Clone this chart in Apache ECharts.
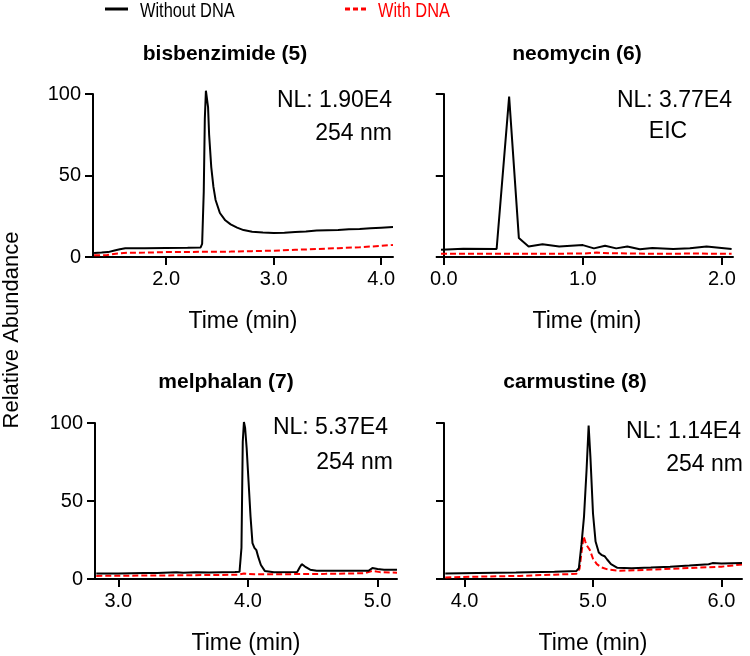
<!DOCTYPE html>
<html>
<head>
<meta charset="utf-8">
<script src="https://cdn.jsdelivr.net/npm/echarts@6/dist/echarts.min.js"></script>
<style>html,body{margin:0;padding:0;background:#fff;}#c{width:750px;height:656px;}</style>
</head>
<body>
<div id="c"></div>
<script>
// ---- data ----
const legendNames = ['Without DNA', 'With DNA'];
const panelTitles = ['bisbenzimide (5)', 'neomycin (6)', 'melphalan (7)', 'carmustine (8)'];
const panelNotes1 = ['NL: 1.90E4', 'NL: 3.77E4', 'NL: 5.37E4', 'NL: 1.14E4'];
const panelNotes2 = ['254 nm', 'EIC', '254 nm', '254 nm'];
const xMins = [1.32, -0.02, 2.82, 3.84];
const xMaxs = [4.11, 2.08, 5.15, 6.16];
const xTicks = [[2, 3, 4], [0, 1, 2], [3, 4, 5], [4, 5, 6]];
const yTicks = [0, 50, 100];

// bisbenzimide (5)
const bisTimeA = [1.33,1.40,1.46,1.52,1.57,1.62,1.80,2.00,2.20,2.32,2.335,2.35,2.36,2.37,2.38,2.39,2.40,2.42,2.44,2.46,2.50,2.55,2.60,2.66,2.72,2.80,2.90,3.00,3.10,3.20,3.30,3.40,3.50,3.60,3.70,3.80,3.90,4.00,4.11];
const bisWithout = [2.5,2.7,3.0,4.0,4.8,5.3,5.4,5.5,5.6,5.8,8,40,85,102,103,92,75,55,43,35,27,22.5,20,18,16.5,15.5,15,14.8,14.9,15.3,15.6,16.2,16.4,16.6,17,17.2,17.6,18,18.4];
const bisTimeB = [1.33,1.45,1.55,1.65,1.80,2.00,2.20,2.40,2.60,2.80,3.00,3.20,3.40,3.60,3.80,4.00,4.11];
const bisWith = [1.0,1.2,2.2,2.6,2.7,3.0,3.1,3.2,3.3,3.6,3.9,4.4,4.9,5.4,6.0,6.8,7.4];

// neomycin (6)
const neoTimeA = [-0.02,0.14,0.38,0.47,0.54,0.61,0.71,0.83,1.00,1.08,1.16,1.24,1.32,1.41,1.50,1.65,1.77,1.89,1.98,2.07];
const neoWithout = [4.5,5.1,4.9,98.4,11.6,6.5,7.8,6.5,7.3,5.3,6.9,5.3,6.5,4.7,5.5,4.9,5.3,6.5,5.7,4.9];
const neoTimeB = [-0.02,0.30,0.60,1.00,1.10,1.20,1.50,1.80,2.07];
const neoWith = [2.0,2.0,2.0,2.1,2.7,2.3,2.0,2.1,2.0];

// melphalan (7)
const melTimeA = [2.83,3.0,3.2,3.3,3.45,3.5,3.6,3.7,3.9,3.935,3.95,3.96,3.969,3.978,3.99,4.005,4.02,4.035,4.05,4.065,4.08,4.10,4.13,4.2,4.38,4.40,4.415,4.44,4.48,4.53,4.7,4.93,4.96,5.0,5.05,5.15];
const melWithout = [3.5,3.6,3.9,3.8,4.3,4.0,4.4,4.2,4.5,4.6,20,88,100.6,97,84,62,40,23,20,18.5,14,9,5.2,4.3,4.5,7.5,9.5,8,6,5.3,5.3,5.3,7.0,6.4,6.0,5.9];
const melTimeB = [2.83,3.2,3.5,3.8,3.93,3.97,4.05,4.3,4.6,4.9,4.96,5.02,5.15];
const melWith = [2.0,2.2,2.4,2.6,2.8,3.5,3.0,3.1,3.3,3.7,5.2,4.4,4.0];

// carmustine (8)
const carTimeA = [3.85,4.1,4.4,4.7,4.87,4.89,4.91,4.93,4.95,4.966,4.98,5.0,5.02,5.045,5.065,5.09,5.11,5.14,5.19,5.3,5.45,5.6,5.75,5.9,5.93,6.0,6.16];
const carWithout = [3.5,3.8,4.1,4.6,5.1,7,22,40,70,98.4,78,42,24,17,15.5,14.6,12.5,9.5,7.2,6.9,7.3,7.9,8.6,9.5,10.2,10.0,10.3];
const carTimeB = [3.85,4.1,4.43,4.7,4.87,4.895,4.912,4.927,4.94,4.95,4.975,5.0,5.03,5.065,5.12,5.21,5.4,5.6,5.8,6.0,6.16];
const carWith = [1.0,1.5,2.0,2.8,3.3,6.5,18,27.4,24,21.7,18.7,13,9.5,7.5,6.0,5.3,5.8,6.5,7.2,7.9,9.3];

const timesA = [bisTimeA, neoTimeA, melTimeA, carTimeA];
const valsA = [bisWithout, neoWithout, melWithout, carWithout];
const timesB = [bisTimeB, neoTimeB, melTimeB, carTimeB];
const valsB = [bisWith, neoWith, melWith, carWith];

// ---- layout ----
const FONT = "'Liberation Sans', Arial, sans-serif";
const grids = [
  {left: 93, top: 94, width: 300, height: 163},
  {left: 441, top: 94, width: 292, height: 163},
  {left: 95, top: 423, width: 302, height: 164},
  {left: 444, top: 423, width: 298, height: 164}
];
const titleCx = [225, 577, 226, 575];
const titleCy = [54, 54, 382, 382];
const note1 = [{x: 392, y: 101, a: 'right'}, {x: 732, y: 101, a: 'right'}, {x: 388, y: 428, a: 'right'}, {x: 741, y: 432, a: 'right'}];
const note2 = [{x: 392, y: 134, a: 'right'}, {x: 668, y: 132, a: 'center'}, {x: 393, y: 463, a: 'right'}, {x: 743, y: 465, a: 'right'}];

const xAxes = [], yAxes = [], series = [], graphics = [];
for (let i = 0; i < 4; i++) {
  xAxes.push({
    gridIndex: i, type: 'value', min: xMins[i], max: xMaxs[i],
    name: 'Time (min)', nameLocation: 'middle', nameGap: 53,
    nameTextStyle: {fontFamily: FONT, fontSize: 23, color: '#000'},
    axisLine: {onZero: false, lineStyle: {color: '#000', width: 2}},
    axisTick: {show: true, length: 8, customValues: xTicks[i], lineStyle: {color: '#000', width: 2}},
    axisLabel: {customValues: xTicks[i], margin: 12, fontFamily: FONT, fontSize: 20, color: '#000',
      formatter: v => Number(v).toFixed(1)},
    splitLine: {show: false}
  });
  yAxes.push({
    gridIndex: i, type: 'value', min: 0, max: 100, interval: 50,
    axisLine: {show: true, lineStyle: {color: '#000', width: 2}},
    axisTick: {show: true, length: 8, lineStyle: {color: '#000', width: 2}},
    axisLabel: {show: i % 2 === 0, margin: 12, fontFamily: FONT, fontSize: 20, color: '#000',
      customValues: yTicks},
    splitLine: {show: false}
  });
  series.push({
    name: legendNames[0], type: 'line', xAxisIndex: i, yAxisIndex: i,
    data: timesA[i].map((t, k) => [t, valsA[i][k]]),
    symbol: 'none', clip: false,
    lineStyle: {color: '#000', width: 2}, itemStyle: {color: '#000'}, z: 3
  });
  series.push({
    name: legendNames[1], type: 'line', xAxisIndex: i, yAxisIndex: i,
    data: timesB[i].map((t, k) => [t, valsB[i][k]]),
    symbol: 'none', clip: false,
    lineStyle: {color: '#ff0000', width: 2, type: [6, 3]}, itemStyle: {color: '#ff0000'}, z: 2
  });
  graphics.push({type: 'text', x: titleCx[i], y: titleCy[i],
    style: {text: panelTitles[i], font: "bold 21px 'Liberation Sans', Arial, sans-serif", fill: '#000', textAlign: 'center', textVerticalAlign: 'middle'}});
  graphics.push({type: 'text', x: note1[i].x, y: note1[i].y,
    style: {text: panelNotes1[i], font: "23px 'Liberation Sans', Arial, sans-serif", fill: '#000', textAlign: note1[i].a, textVerticalAlign: 'middle'}});
  graphics.push({type: 'text', x: note2[i].x, y: note2[i].y,
    style: {text: panelNotes2[i], font: "23px 'Liberation Sans', Arial, sans-serif", fill: '#000', textAlign: note2[i].a, textVerticalAlign: 'middle'}});
}
graphics.push({type: 'text', x: 12, y: 330, rotation: Math.PI / 2,
  style: {text: 'Relative Abundance', font: "22px 'Liberation Sans', Arial, sans-serif", fill: '#000', textAlign: 'center', textVerticalAlign: 'middle'}});

// legend (drawn as key lines + real text)
graphics.push({type: 'line', shape: {x1: 105, y1: 9, x2: 128, y2: 9}, style: {stroke: '#000', lineWidth: 3}});
graphics.push({type: 'text', x: 140, y: 11, scaleX: 0.78,
  style: {text: legendNames[0], font: "21px 'Liberation Sans', Arial, sans-serif", fill: '#000', textAlign: 'left', textVerticalAlign: 'middle'}});
graphics.push({type: 'line', shape: {x1: 345, y1: 9, x2: 368, y2: 9}, style: {stroke: '#ff0000', lineWidth: 3, lineDash: [5, 3]}});
graphics.push({type: 'text', x: 378, y: 11, scaleX: 0.78,
  style: {text: legendNames[1], font: "21px 'Liberation Sans', Arial, sans-serif", fill: '#ff0000', textAlign: 'left', textVerticalAlign: 'middle'}});

const option = {
  animation: false,
  backgroundColor: '#fff',
  grid: grids,
  xAxis: xAxes,
  yAxis: yAxes,
  series: series,
  graphic: graphics
};
const chart = echarts.init(document.getElementById('c'), null, {renderer: 'canvas'});
chart.setOption(option);
</script>
</body>
</html>
